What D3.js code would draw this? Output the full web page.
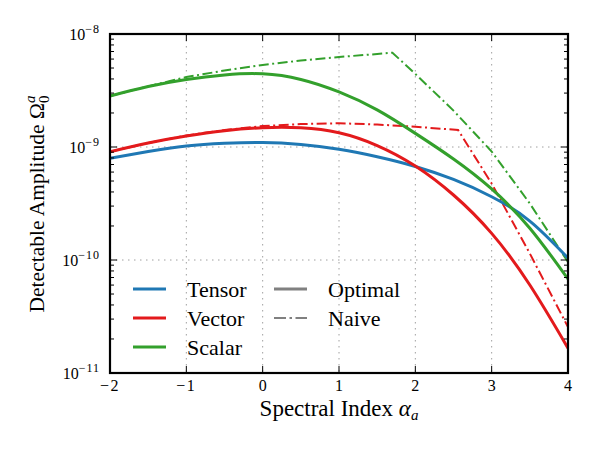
<!DOCTYPE html>
<html><head><meta charset="utf-8">
<script src="https://cdn.jsdelivr.net/npm/d3@7"></script>
<style>body{margin:0;background:#fff}svg{display:block}text{font-family:"Liberation Serif","DejaVu Serif",serif;fill:#000}</style>
</head><body>
<svg id="c" width="600" height="450"></svg>
<script>
const xs = [-2,-1.5,-1,-0.5,0,0.5,1,1.5,2,2.5,3,3.5,4];
const tensorOptimal = [7.94e-10,9.12e-10,1.02e-9,1.078e-9,1.096e-9,1.052e-9,9.54e-10,8.19e-10,6.72e-10,5.16e-10,3.63e-10,2.21e-10,1.04e-10];
const vectorOptimal = [9.09e-10,1.085e-9,1.251e-9,1.394e-9,1.482e-9,1.48e-9,1.338e-9,1.031e-9,6.79e-10,3.76e-10,1.72e-10,6.01e-11,1.66e-11];
const scalarOptimal = [2.83e-9,3.43e-9,3.96e-9,4.34e-9,4.44e-9,3.96e-9,3.07e-9,2.13e-9,1.32e-9,7.83e-10,4.25e-10,1.91e-10,6.79e-11];
const vectorNaiveX = [-2,-1.5,-1,-0.5,0,0.5,1,1.5,2,2.56,3,3.5,4];
const vectorNaive = [9.09e-10,1.085e-9,1.264e-9,1.414e-9,1.533e-9,1.597e-9,1.623e-9,1.581e-9,1.512e-9,1.414e-9,4.75e-10,1.14e-10,2.55e-11];
const scalarNaiveX = [-2,-1.5,-1,-0.5,0,0.5,1,1.5,1.7,2,2.5,3,3.5,4];
const scalarNaive = [2.83e-9,3.44e-9,4.16e-9,4.75e-9,5.32e-9,5.83e-9,6.26e-9,6.65e-9,6.83e-9,4.43e-9,2.10e-9,9.12e-10,3.16e-10,9.60e-11];
const xTicks = [-2,-1,0,1,2,3,4];
const xTickLabels = ["\u22122","\u22121","0","1","2","3","4"];
const yTickExps = [-11,-10,-9,-8];
const seriesNames = ["Tensor","Vector","Scalar"];
const seriesColors = ["#1f78b4","#e31a1c","#33a02c"];
const styleNames = ["Optimal","Naive"];

const svg = d3.select("#c");
const L=110,R=568,T=34,B=373;
const x = d3.scaleLinear().domain([-2,4]).range([L,R]);
const y = d3.scaleLog().domain([1e-11,1e-8]).range([B,T]);

// grid
const g = svg.append("g");
[-1,0,1,2,3].forEach(v=>g.append("line").attr("x1",x(v)).attr("x2",x(v)).attr("y1",T).attr("y2",B)
  .attr("stroke","#a0a0a0").attr("stroke-width",1).attr("stroke-dasharray","1.5,4.5"));
[1e-10,1e-9].forEach(v=>g.append("line").attr("y1",y(v)).attr("y2",y(v)).attr("x1",L).attr("x2",R)
  .attr("stroke","#a0a0a0").attr("stroke-width",1).attr("stroke-dasharray","1.5,4.5"));

svg.append("defs").append("clipPath").attr("id","clip").append("rect").attr("x",L).attr("y",T).attr("width",R-L).attr("height",B-T);

const lineSmooth = d3.line().x(d=>x(d[0])).y(d=>y(d[1])).curve(d3.curveNatural);
const lineNaive = d3.line().x(d=>x(d[0])).y(d=>y(d[1])).curve(d3.curveLinear);
const plot = svg.append("g").attr("clip-path","url(#clip)");
const dashDot = "10,3.5,2,3.5";
plot.append("path").datum(vectorNaiveX.map((v,i)=>[v,vectorNaive[i]])).attr("d",lineNaive)
  .attr("fill","none").attr("stroke",seriesColors[1]).attr("stroke-width",2).attr("stroke-dasharray",dashDot);
plot.append("path").datum(scalarNaiveX.map((v,i)=>[v,scalarNaive[i]])).attr("d",lineNaive)
  .attr("fill","none").attr("stroke",seriesColors[2]).attr("stroke-width",2).attr("stroke-dasharray",dashDot);
[tensorOptimal,vectorOptimal,scalarOptimal].forEach((arr,i)=>{
  plot.append("path").datum(xs.map((v,j)=>[v,arr[j]])).attr("d",lineSmooth)
    .attr("fill","none").attr("stroke",seriesColors[i]).attr("stroke-width",3);
});

// ticks (inward, all sides)
const tk = svg.append("g").attr("stroke","#000");
xTicks.forEach(v=>{
  tk.append("line").attr("x1",x(v)).attr("x2",x(v)).attr("y1",B).attr("y2",B-7).attr("stroke-width",1);
  tk.append("line").attr("x1",x(v)).attr("x2",x(v)).attr("y1",T).attr("y2",T+7).attr("stroke-width",1);
});
yTickExps.forEach((e,k)=>{
  const v = Math.pow(10,e);
  tk.append("line").attr("x1",L).attr("x2",L+7).attr("y1",y(v)).attr("y2",y(v)).attr("stroke-width",1);
  tk.append("line").attr("x1",R).attr("x2",R-7).attr("y1",y(v)).attr("y2",y(v)).attr("stroke-width",1);
  if(k<yTickExps.length-1){
    for(let m=2;m<=9;m++){
      const mv=m*v;
      tk.append("line").attr("x1",L).attr("x2",L+4).attr("y1",y(mv)).attr("y2",y(mv)).attr("stroke-width",1);
      tk.append("line").attr("x1",R).attr("x2",R-4).attr("y1",y(mv)).attr("y2",y(mv)).attr("stroke-width",1);
    }
  }
});
svg.append("rect").attr("x",L).attr("y",T).attr("width",R-L).attr("height",B-T)
  .attr("fill","none").attr("stroke","#000").attr("stroke-width",2.2);

// tick labels
xTicks.forEach((v,i)=>{
  svg.append("text").attr("x",x(v)).attr("y",B+18).attr("text-anchor","middle").attr("font-size",16)
    .attr("letter-spacing", v<0?1.5:0).text(xTickLabels[i]);
});
yTickExps.forEach(e=>{
  const t = svg.append("text").attr("x",L-10).attr("y",y(Math.pow(10,e))+6).attr("text-anchor","end").attr("font-size",16);
  t.append("tspan").text("10");
  t.append("tspan").attr("dy",-7).attr("font-size",12).attr("letter-spacing",1).text("\u2212"+Math.abs(e));
});

// axis labels
const xl = svg.append("text").attr("x",339).attr("y",416).attr("text-anchor","middle").attr("font-size",23);
xl.append("tspan").text("Spectral Index ");
xl.append("tspan").attr("font-style","italic").text("\u03b1");
xl.append("tspan").attr("font-style","italic").attr("font-size",15).attr("dy",4).text("a");

const yl = svg.append("text").attr("transform","translate(44,204) rotate(-90)").attr("text-anchor","middle").attr("font-size",21.5);
yl.append("tspan").text("Detectable Amplitude \u03a9");
yl.append("tspan").attr("font-size",15).attr("dy",5).text("0");
yl.append("tspan").attr("font-size",15).attr("font-style","italic").attr("dx",-7.5).attr("dy",-14).text("a");

// legend
const lg = svg.append("g");
seriesNames.forEach((n,i)=>{
  const yy = 289 + i*29;
  lg.append("line").attr("x1",133).attr("x2",166).attr("y1",yy).attr("y2",yy).attr("stroke",seriesColors[i]).attr("stroke-width",3.2);
  lg.append("text").attr("x",187).attr("y",yy+8).attr("font-size",22).text(n);
});
styleNames.forEach((n,i)=>{
  const yy = 289 + i*29;
  lg.append("line").attr("x1",274).attr("x2",307).attr("y1",yy).attr("y2",yy).attr("stroke","#808080")
    .attr("stroke-width",i===0?3.2:2).attr("stroke-dasharray",i===0?null:"12,3.5,2.5,3.5");
  lg.append("text").attr("x",328).attr("y",yy+8).attr("font-size",22).text(n);
});
</script>
</body></html>
